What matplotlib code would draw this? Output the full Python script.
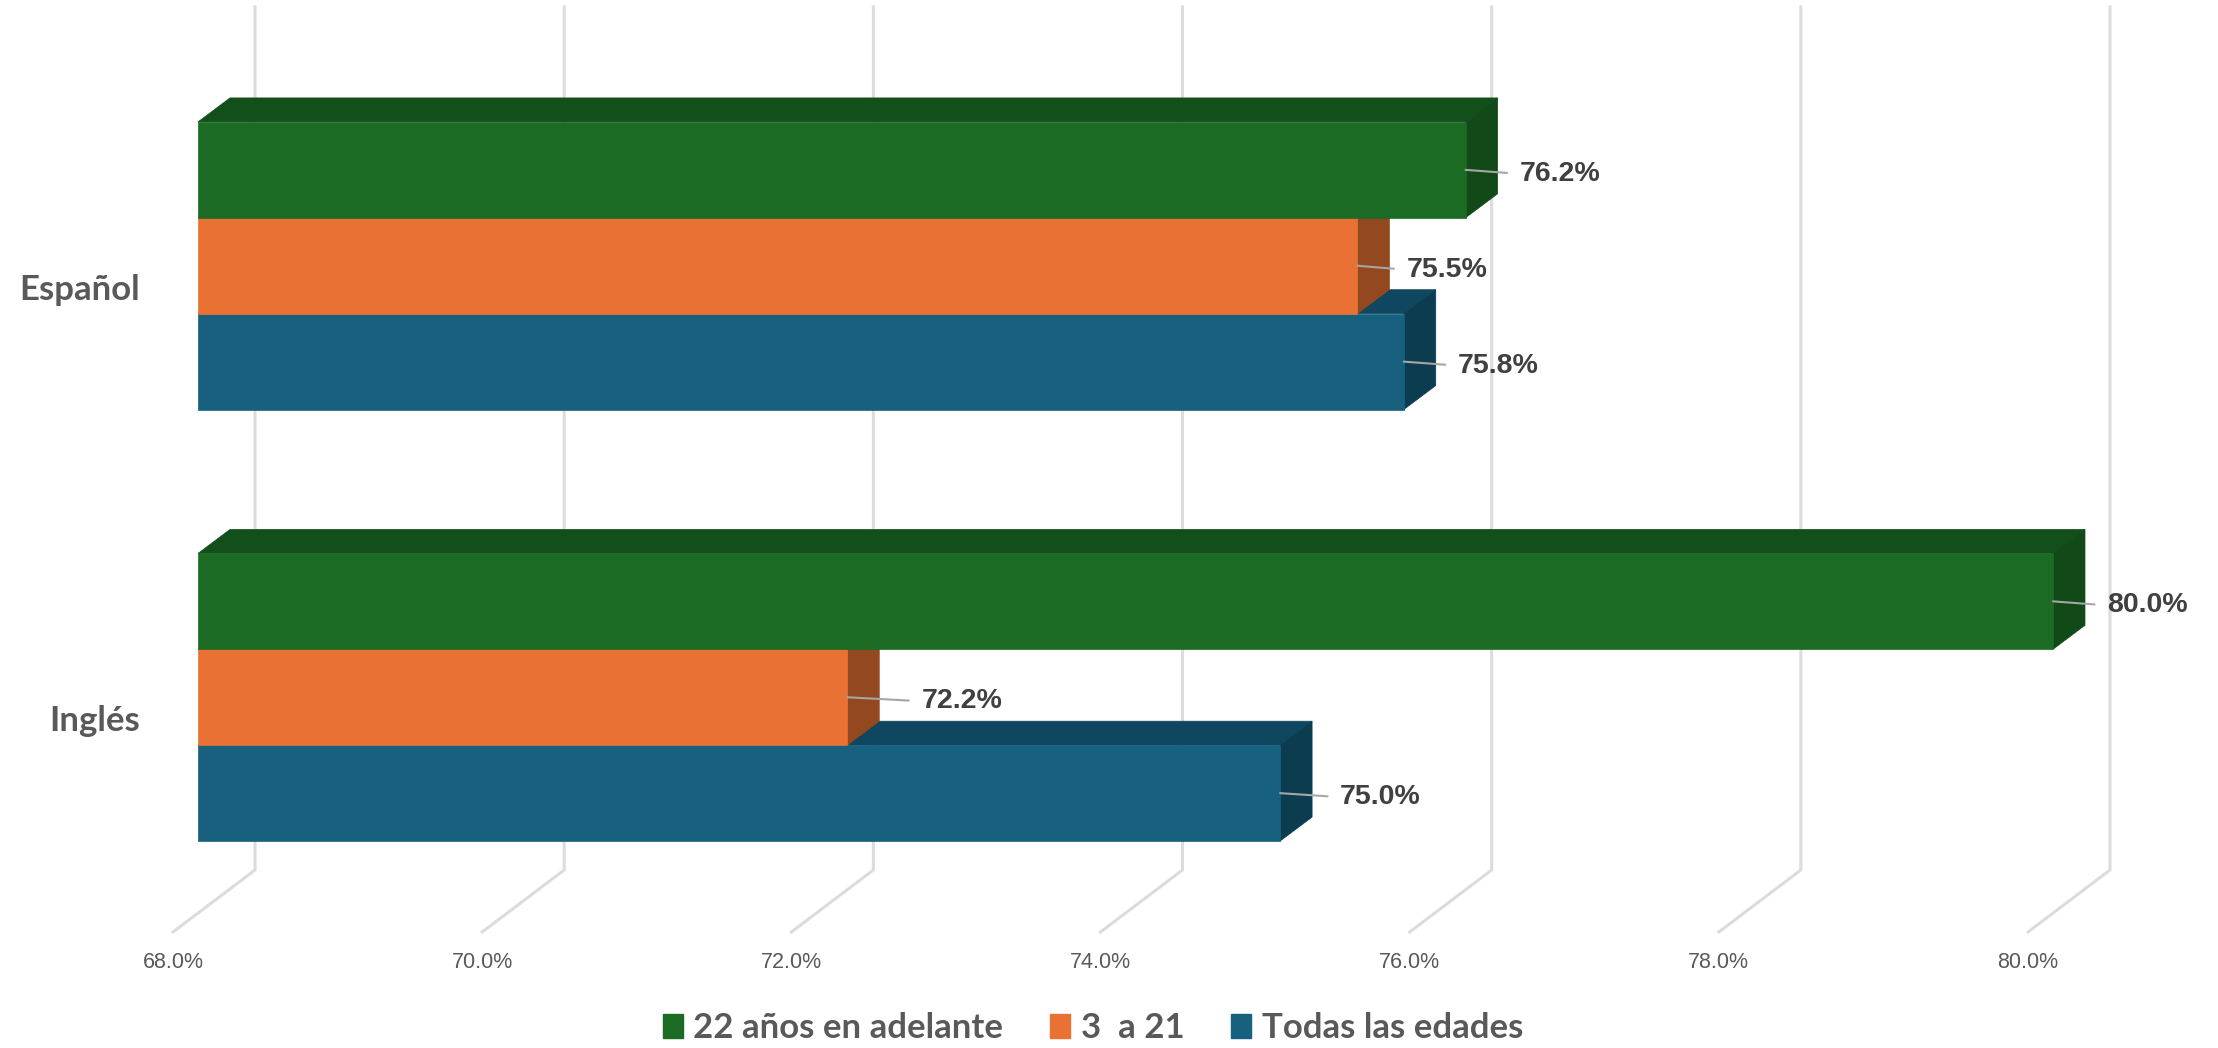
import matplotlib
matplotlib.use('Agg')
import matplotlib.pyplot as plt
from matplotlib.patches import Polygon, Patch

# chart data
categories = ['Español', 'Inglés']
series = ['22 años en adelante', '3  a 21', 'Todas las edades']
adults = [76.2, 80.0]      # 22 años en adelante
youth = [75.5, 72.2]       # 3 a 21
all_ages = [75.8, 75.0]    # todas las edades
ticks = [68, 70, 72, 74, 76, 78, 80]

# colours: front, top, side
green = ('#1b6b25', '#124f1a', '#114a18')
orange = ('#e87133', '#b85a28', '#934820')
blue = ('#17607e', '#0f4660', '#0c3c50')
text_grey = '#595959'
label_grey = '#404040'
grid_grey = '#dcdcdc'

W, H = 2218, 1048
fig = plt.figure(figsize=(W / 100, H / 100), dpi=100)
fig.patch.set_facecolor('white')

# axes box = front plane of the bars
ax = fig.add_axes([198 / W, 1 - 913 / H, (2053 - 198) / W, (913 - 50) / H])
ax.set_xlim(ticks[0], ticks[-1])
ax.set_ylim(1.5, -0.5)
ax.set_xticks([])
ax.set_yticks([])
for s in ax.spines.values():
    s.set_visible(False)
ax.patch.set_alpha(0)


def px_to_data(dx, dy):
    # screen pixel offset (dy positive = up) -> data offset
    x0, y0 = ax.transData.transform((ticks[0], 0))
    x1, y1 = ax.transData.inverted().transform((x0 + dx, y0 + dy))
    return x1 - ticks[0], y1


bar_d = px_to_data(32, 24)      # depth of a bar
wall_d = px_to_data(57, 43)     # back wall behind the bars
floor_d = px_to_data(-25, -19)  # front edge of the floor

# gridlines on the back wall, folding down onto the floor
for t in ticks:
    xs = [t + wall_d[0], t + wall_d[0], t + floor_d[0]]
    ys = [-0.5 + wall_d[1], 1.5 + wall_d[1], 1.5 + floor_d[1]]
    ax.plot(xs, ys, color=grid_grey, lw=2.2, clip_on=False,
            solid_joinstyle='miter', zorder=0.5)
    ax.annotate(f'{t:.1f}%', xy=(t + floor_d[0], 1.5 + floor_d[1]),
                xytext=(0, -31), textcoords='offset pixels',
                ha='center', va='center', fontsize=15.5, color=text_grey,
                family=['Liberation Sans', 'DejaVu Sans'],
                annotation_clip=False)

h = 1 / 4.5
base = ticks[0]


def draw_bar(yc, v, cols, z):
    top, bot = yc - h / 2, yc + h / 2
    dx, dy = bar_d
    ax.add_patch(Polygon([(base, top), (v, top), (v + dx, top + dy), (base + dx, top + dy)],
                         closed=True, fc=cols[1], ec=cols[1], lw=0.5, zorder=z,
                         clip_on=False))
    ax.add_patch(Polygon([(v, top), (v + dx, top + dy), (v + dx, bot + dy), (v, bot)],
                         closed=True, fc=cols[2], ec=cols[2], lw=0.5, zorder=z,
                         clip_on=False))
    ax.barh(yc, v - base, left=base, height=h, color=cols[0],
            edgecolor=cols[0], lw=0.5, zorder=z, clip_on=False)


# label gap (px) from the bar's front edge, per category / series
gaps = {0: [54, 49, 54], 1: [54, 74, 60]}

groups = [(adults, green, -h), (youth, orange, 0.0), (all_ages, blue, h)]
for i in range(len(categories)):
    # lowest bar first so the upper ones cover its top face
    for k in (2, 1, 0):
        vals, cols, off = groups[k]
        draw_bar(i + off, vals[i], cols, 2 + (2 - k))
    for k in range(3):
        vals, cols, off = groups[k]
        ax.annotate(f'{vals[i]:.1f}%', xy=(vals[i], i + off),
                    xytext=(gaps[i][k], -4), textcoords='offset pixels',
                    ha='left', va='center', fontsize=20.5, fontweight='bold',
                    color=label_grey, family=['Liberation Sans', 'DejaVu Sans'],
                    annotation_clip=False, zorder=10,
                    arrowprops=dict(arrowstyle='-', color='#a6a6a6', lw=1.5,
                                    shrinkA=7, shrinkB=0, relpos=(0, 0.5)))
    ax.annotate(categories[i], xy=(base, i), xytext=(-58, -34),
                textcoords='offset pixels', ha='right', va='baseline',
                fontsize=25, fontweight='bold', color=text_grey,
                family=['Lato', 'DejaVu Sans'], annotation_clip=False)

handles = [Patch(color=c[0]) for c in (green, orange, blue)]
fig.legend(handles, series, loc='center', bbox_to_anchor=(1093 / W, 1 - 1028 / H),
           ncol=3, frameon=False,
           prop=dict(family=['Lato', 'DejaVu Sans'], weight='bold', size=25),
           labelcolor=text_grey, handlelength=0.58, handleheight=0.68,
           handletextpad=0.3, columnspacing=1.35, borderpad=0, borderaxespad=0)

fig.savefig('out.png', dpi=100, facecolor='white')
